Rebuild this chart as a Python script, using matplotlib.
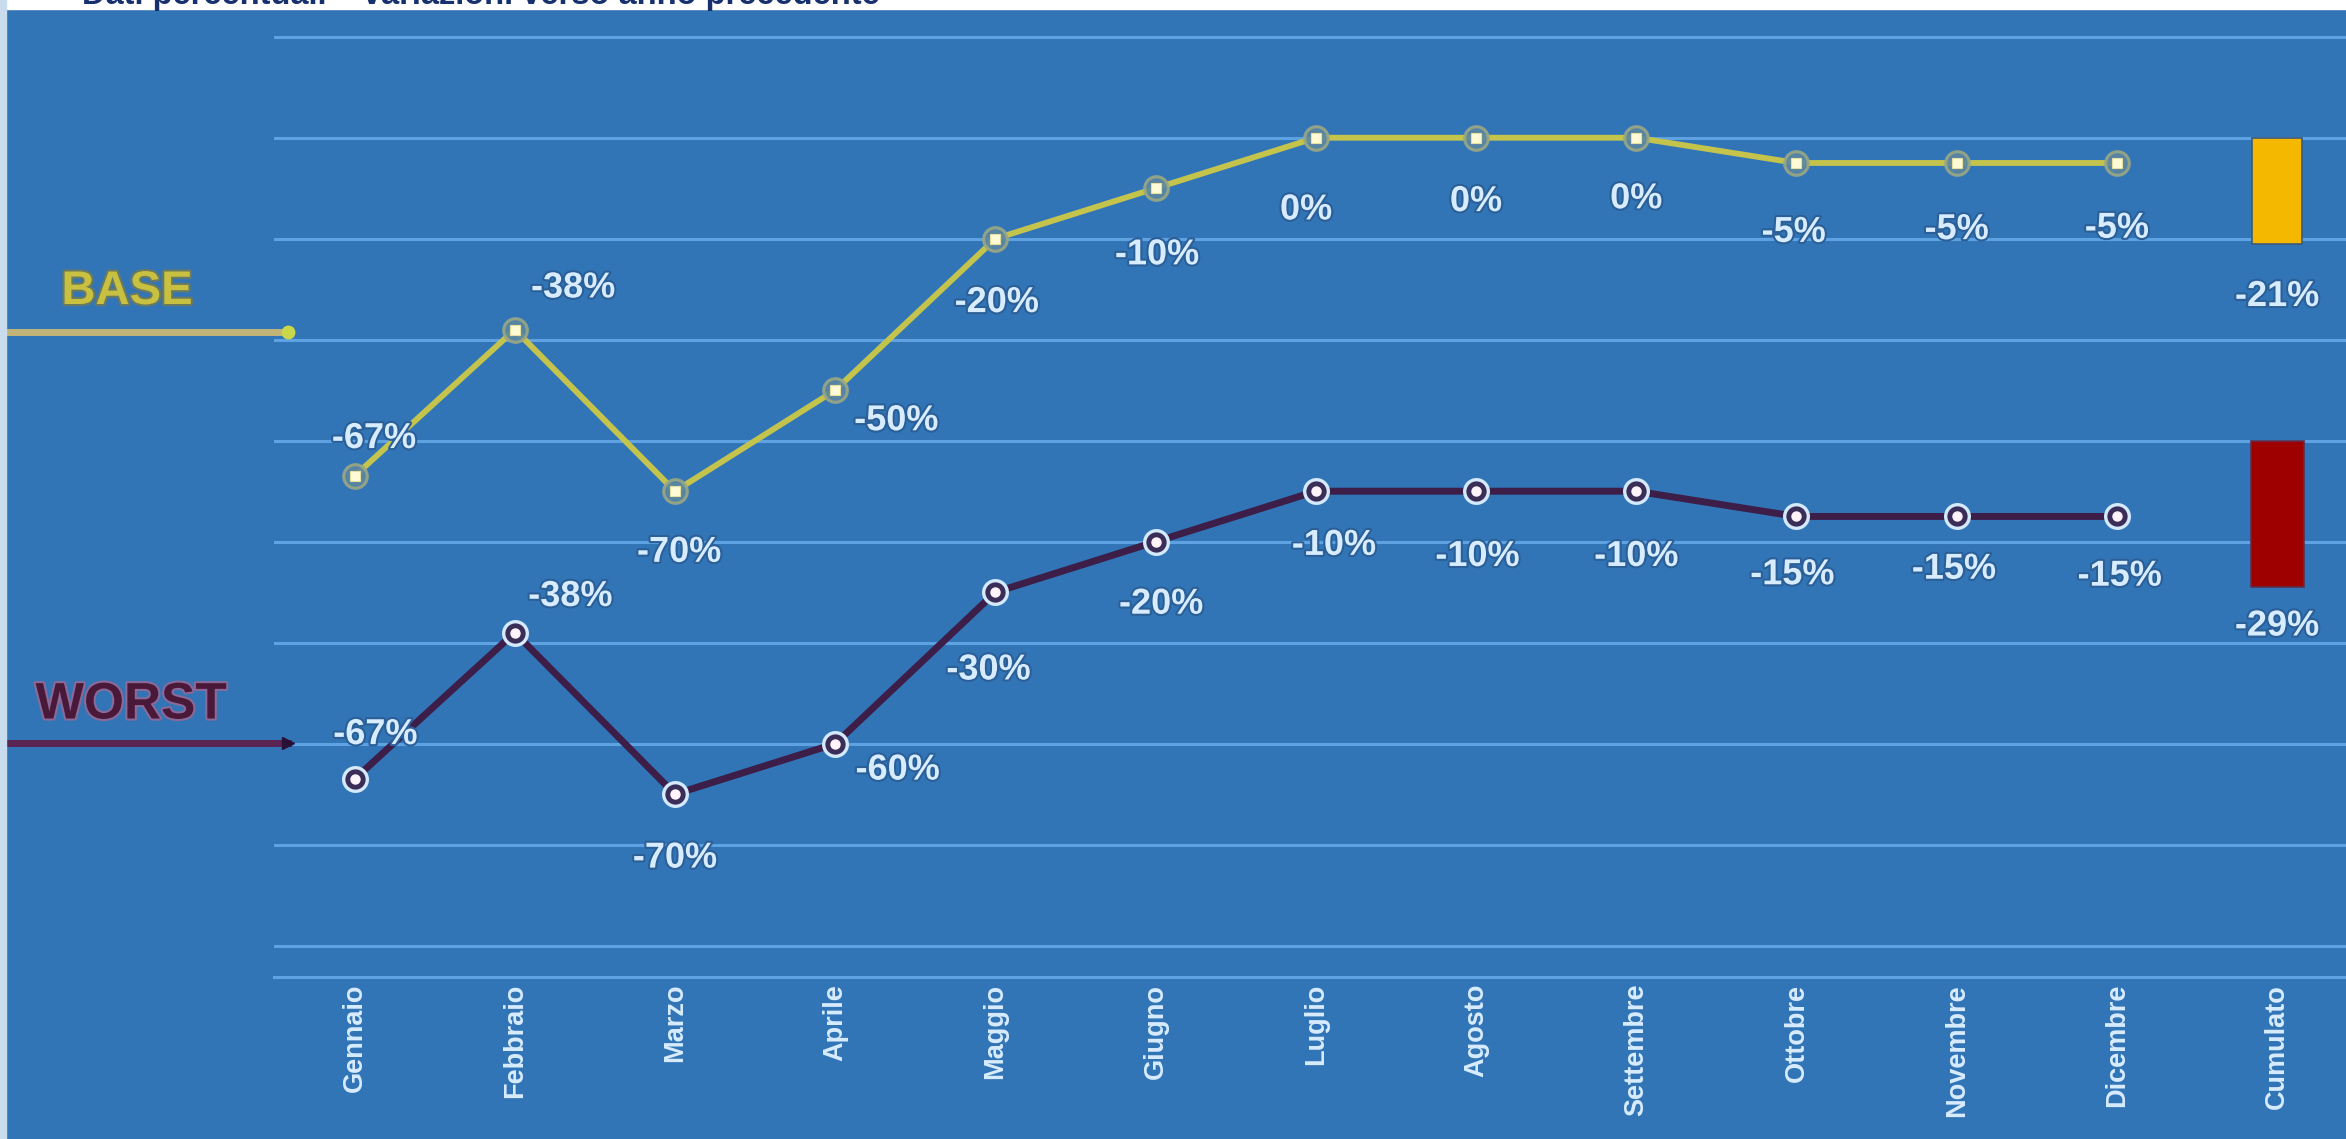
import matplotlib
matplotlib.use('Agg')
import matplotlib.pyplot as plt
import matplotlib.patheffects as pe
from matplotlib.patches import Rectangle
from matplotlib.lines import Line2D
from matplotlib import font_manager

# ---------------- data ----------------
months = ['Gennaio', 'Febbraio', 'Marzo', 'Aprile', 'Maggio', 'Giugno', 'Luglio',
          'Agosto', 'Settembre', 'Ottobre', 'Novembre', 'Dicembre']
cum_label = 'Cumulato'
base_values = [-67, -38, -70, -50, -20, -10, 0, 0, 0, -5, -5, -5]
worst_values = [-67, -38, -70, -60, -30, -20, -10, -10, -10, -15, -15, -15]
base_cumulato = -21
worst_cumulato = -29
title_text = 'Dati percentuali \u2013 variazioni verso anno precedente'
series_names = ['BASE', 'WORST']

# ---------------- style ----------------
BG = '#3275b6'
GRID = '#5fa2e2'
BASE_LINE = '#c4c44c'
WORST_LINE = '#3c1e48'
BASE_BAR = '#f5b800'
WORST_BAR = '#9e0000'
LABEL_C = '#d8ecff'
WORST_SHIFT = -60          # vertical shift of the WORST panel on the shared scale
W, H = 2346, 1139

installed = {f.name for f in font_manager.fontManager.ttflist}
if 'Liberation Sans Narrow' in installed:
    NARROW = ['Liberation Sans Narrow', 'DejaVu Sans']
    TICK_FS, LBL_FS = 22, 27
else:
    NARROW = ['Liberation Sans', 'DejaVu Sans']
    TICK_FS, LBL_FS = 19.5, 26
WIDE = ['Liberation Sans', 'DejaVu Sans']

# label offsets (points) relative to each marker
base_off = [(14, 27), (42, 30), (3, -44), (44, -22), (1, -46), (1, -48), (-7, -52),
            (0, -46), (0, -44), (-2, -50), (0, -48), (0, -47)]
worst_off = [(15, 32), (40, 26), (0, -46), (45, -19), (-5, -56), (4, -45), (13, -39),
             (1, -47), (0, -47), (-3, -42), (-2, -38), (2, -43)]

fig = plt.figure(figsize=(W / 100, H / 100), dpi=100)
fig.patch.set_facecolor(BG)

ax_left = 274 / W
ax_top = 14 / H
ax_bot = 977 / H
ax = fig.add_axes([ax_left, 1 - ax_bot, 1 - ax_left, ax_bot - ax_top])
ax.set_facecolor(BG)

x = list(range(len(months)))
xc = len(months)

# grid
for g in range(-160, 21, 20):
    ax.axhline(g, color=GRID, lw=2.2, zorder=1)

ax.set_xlim(-0.503, 12.43)
ax.set_ylim(-166.2, 24.5)

worst_plot = [v + WORST_SHIFT for v in worst_values]

# lines
ax.plot(x, base_values, color=BASE_LINE, lw=4.2, zorder=3, solid_joinstyle='round')
ax.plot(x, worst_plot, color=WORST_LINE, lw=5.0, zorder=3, solid_joinstyle='round')

# markers
ax.plot(x, base_values, ls='none', marker='o', ms=17, mfc='#5b86a0', mec='#9aa884',
        mew=2.2, zorder=4, alpha=0.9)
ax.plot(x, base_values, ls='none', marker='s', ms=6.5, mfc='#fffbd6', mec='#e8e0a0',
        mew=0.8, zorder=5)
ax.plot(x, worst_plot, ls='none', marker='o', ms=17, mfc='#3a2d58', mec='#d4eafc',
        mew=2.4, zorder=4)
ax.plot(x, worst_plot, ls='none', marker='o', ms=6.5, mfc='#fff4fa', mec='#fff4fa',
        zorder=5)

# cumulative bars
ax.bar([xc], [base_cumulato], width=0.31, color=BASE_BAR, edgecolor='#3b5a78', lw=1.2,
       zorder=3)
ax.bar([xc], [worst_cumulato], bottom=WORST_SHIFT, width=0.33, color=WORST_BAR,
       edgecolor='#5a3050', lw=1.2, zorder=3)

lbl_fx = [pe.withStroke(linewidth=3, foreground='#2a5f98')]

def pct(v):
    return f'{v:d}%'

for i, v in enumerate(base_values):
    dx, dy = base_off[i]
    ax.annotate(pct(v), (x[i], v), xytext=(dx, dy), textcoords='offset points',
                ha='center', va='center', fontsize=LBL_FS, fontweight='bold',
                family=NARROW, color=LABEL_C, path_effects=lbl_fx, zorder=6)
for i, v in enumerate(worst_values):
    dx, dy = worst_off[i]
    ax.annotate(pct(v), (x[i], worst_plot[i]), xytext=(dx, dy), textcoords='offset points',
                ha='center', va='center', fontsize=LBL_FS, fontweight='bold',
                family=NARROW, color=LABEL_C, path_effects=lbl_fx, zorder=6)

ax.annotate(pct(base_cumulato), (xc, base_cumulato), xytext=(0, -38),
            textcoords='offset points', ha='center', va='center', fontsize=LBL_FS,
            fontweight='bold', family=NARROW, color=LABEL_C, path_effects=lbl_fx, zorder=6)
ax.annotate(pct(worst_cumulato), (xc, worst_cumulato + WORST_SHIFT), xytext=(0, -28),
            textcoords='offset points', ha='center', va='center', fontsize=LBL_FS,
            fontweight='bold', family=NARROW, color=LABEL_C, path_effects=lbl_fx, zorder=6)

# axes styling
for s in ['top', 'right', 'left']:
    ax.spines[s].set_visible(False)
ax.spines['bottom'].set_color(GRID)
ax.spines['bottom'].set_linewidth(2.2)
ax.set_yticks([])
ax.set_xticks(x + [xc])
ax.set_xticklabels(months + [cum_label], rotation=90, fontsize=TICK_FS, fontweight='bold',
                   family=NARROW, color=LABEL_C)
ax.tick_params(axis='x', length=0, pad=5)

# figure decorations: title band, left strip
fig.add_artist(Rectangle((0, 1 - 9 / H), 1, 9 / H, transform=fig.transFigure,
                         color='white', zorder=10))
fig.add_artist(Rectangle((0, 0), 6 / W, 1, transform=fig.transFigure,
                         color='#c9dcee', zorder=10))
fig.text(82 / W, 1 - 4 / H, title_text, ha='left', va='baseline', fontsize=23.5,
         fontweight='bold', family=WIDE, color='#17306e', zorder=11)

# series markers on the left
by = 1 - 332 / H
wy = 1 - 743 / H
fig.add_artist(Line2D([7 / W, 288 / W], [by, by], transform=fig.transFigure,
                      color='#c2b478', lw=5, zorder=5))
fig.add_artist(Line2D([288 / W], [by], transform=fig.transFigure, marker='o', ms=9,
                      color='#c8d84a', ls='none', zorder=6))
fig.add_artist(Line2D([7 / W, 288 / W], [wy, wy], transform=fig.transFigure,
                      color='#5a2352', lw=5, zorder=5))
fig.add_artist(Line2D([288 / W], [wy], transform=fig.transFigure, marker='>', ms=9,
                      color='#2a1035', ls='none', zorder=6))

fig.text(127 / W, 1 - 292 / H, series_names[0], ha='center', va='center', fontsize=34,
         fontweight='bold', family=WIDE, color='#c8c040',
         path_effects=[pe.withStroke(linewidth=3, foreground='#6a7a60')])
fig.text(131 / W, 1 - 705 / H, series_names[1], ha='center', va='center', fontsize=37,
         fontweight='bold', family=WIDE, color='#4a1838',
         path_effects=[pe.withStroke(linewidth=3, foreground='#8a6a98')])

fig.savefig('out.png', dpi=100, facecolor=fig.get_facecolor())
